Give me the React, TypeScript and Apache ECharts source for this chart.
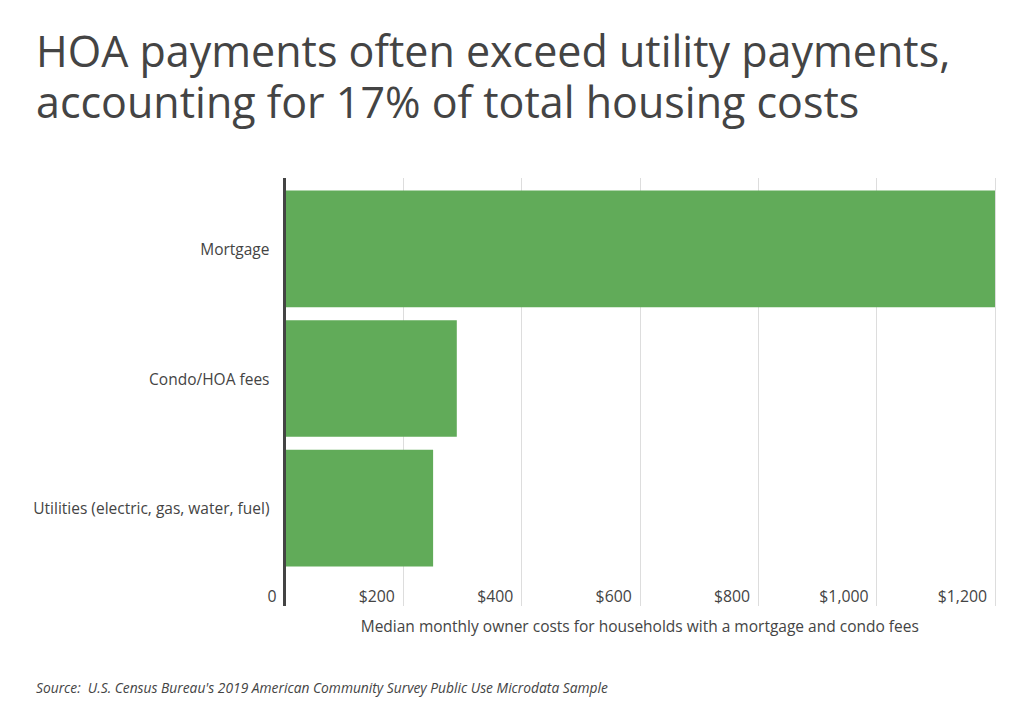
import React, { useEffect, useRef } from "react";
import * as echarts from "echarts";

const categories = ["Mortgage", "Condo/HOA fees", "Utilities (electric, gas, water, fuel)"];
const values = [1200, 291, 251];
const tickValues = [0, 200, 400, 600, 800, 1000, 1200];
const tickLabels = ["0", "$200", "$400", "$600", "$800", "$1,000", "$1,200"];
const titleLines = ["HOA payments often exceed utility payments,", "accounting for 17% of total housing costs"];
const axisName = "Median monthly owner costs for households with a mortgage and condo fees";
const sourceText = "Source:  U.S. Census Bureau's 2019 American Community Survey Public Use Microdata Sample";

const FONT = "'Open Sans', 'Noto Sans', sans-serif";
const TEXT = "#444444";
const GRID = { left: 284.5, right: 29, top: 184, bottom: 142 };

export default function App() {
  const ref = useRef<HTMLDivElement>(null);
  useEffect(() => {
    if (!ref.current) return;
    const chart = echarts.init(ref.current, undefined, { renderer: "svg" });
    const labelFor = (v: number) => {
      const i = tickValues.indexOf(v);
      return i >= 0 ? tickLabels[i] : "";
    };
    const plotBottom = 715 - GRID.bottom;
    chart.setOption({
      animation: false,
      backgroundColor: "#ffffff",
      textStyle: { fontFamily: FONT },
      title: titleLines.map((t, i) => ({
        text: t,
        left: 36,
        top: 29 + i * 51,
        padding: 0,
        textStyle: { fontFamily: FONT, fontSize: 43, fontWeight: "normal", color: TEXT, lineHeight: 43 },
      })),
      grid: GRID,
      xAxis: [
        {
          type: "value",
          min: 0,
          max: 1200,
          interval: 200,
          position: "bottom",
          axisLine: { show: false },
          axisTick: { show: true, length: 33, lineStyle: { color: "#dddddd", width: 1 } },
          splitLine: { show: true, lineStyle: { color: "#dddddd", width: 1 } },
          axisLabel: {
            formatter: (v: number) => labelFor(v),
            align: "right",
            padding: [0, 8, 0, 0],
            margin: 15,
            fontSize: 15.8,
            color: TEXT,
            fontFamily: FONT,
          },
          name: axisName,
          nameLocation: "middle",
          nameGap: 45,
          nameTextStyle: { fontSize: 15.5, color: TEXT, fontFamily: FONT },
        },
        {
          type: "value",
          min: 0,
          max: 1200,
          interval: 200,
          position: "top",
          axisLine: { show: false },
          axisTick: { show: true, length: 6, lineStyle: { color: "#dddddd", width: 1 } },
          splitLine: { show: false },
          axisLabel: { show: false },
        },
      ],
      yAxis: {
        type: "category",
        data: categories,
        inverse: true,
        axisLine: { show: false },
        axisTick: { show: false },
        axisLabel: { fontSize: 15.5, color: TEXT, margin: 15, fontFamily: FONT },
      },
      series: [
        {
          type: "bar",
          data: values,
          xAxisIndex: 0,
          barCategoryGap: "10%",
          itemStyle: { color: "#61ab59" },
        },
      ],
      graphic: [
        {
          type: "line",
          z: 100,
          shape: { x1: GRID.left, y1: GRID.top - 6, x2: GRID.left, y2: plotBottom + 33 },
          style: { stroke: "#444444", lineWidth: 3 },
        },
        {
          type: "text",
          left: 36,
          top: 680,
          style: { text: sourceText, fontFamily: FONT, fontSize: 13.8, fontStyle: "italic", fill: TEXT },
        },
      ],
    });
    return () => chart.dispose();
  }, []);
  return <div ref={ref} style={{ width: 1024, height: 715, position: "absolute", left: 0, top: 0 }} />;
}
